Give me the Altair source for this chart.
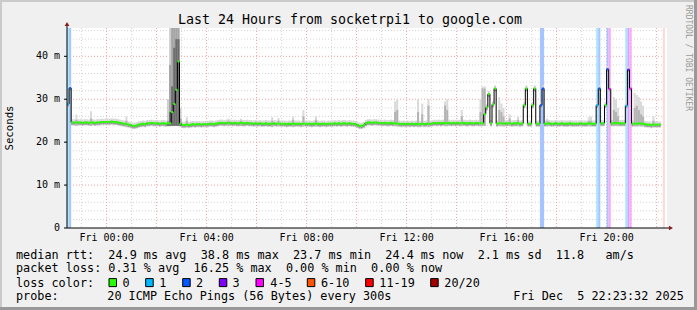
import altair as alt
import pandas as pd

NBSP = "\u00a0"
FONT = "DejaVu Sans Mono"

STEPS = 288          # 5-minute steps, Thu 22:25 -> Fri 22:25
YMAX = 46.6          # top of the plot in ms
W, H = 600, 200

# ---------------- median rtt (ms) per 5-minute step ----------------
median_ms = [
    28.9, 32.6, 24.6, 24.6, 24.5, 24.6, 24.6,                                  # 22:25-22:55
    24.5, 24.6, 24.6, 24.5, 24.6, 24.6, 24.5, 24.6, 24.6, 24.7, 24.7, 24.7,    # 23h
    24.7, 24.7, 24.8, 24.7, 24.7, 24.6, 24.5, 24.4, 24.3, 24.2, 24.1, 24.0,    # 00h
    23.8, 23.8, 23.9, 24.1, 24.2, 24.3, 24.2, 24.4, 24.4, 24.5, 24.4, 24.4,    # 01h
    24.4, 24.3, 24.4, 24.4, 24.3, 24.4, 24.4, 27.0, 28.9, 32.2, 38.8, 24.3,    # 02h
    24.0, 24.0, 24.1, 24.0, 24.1, 24.2, 24.1, 24.2, 24.2, 24.1, 24.2, 24.2,    # 03h
    24.2, 24.3, 24.3, 24.2, 24.3, 24.4, 24.5, 24.5, 24.4, 24.5, 24.4, 24.5,    # 04h
    24.4, 24.5, 24.4, 24.4, 24.5, 24.4, 24.4, 24.5, 24.4, 24.4, 24.3, 24.4,    # 05h
    24.3, 24.4, 24.3, 24.3, 24.4, 24.3, 24.3, 24.2, 24.4, 24.3, 24.3, 24.3,    # 06h
    24.3, 24.3, 24.2, 24.3, 24.3, 24.2, 24.3, 24.3, 24.3, 24.2, 24.3, 24.3,    # 07h
    24.3, 24.3, 24.2, 24.3, 24.3, 24.3, 24.2, 24.3, 24.3, 24.2, 24.3, 24.3,    # 08h
    24.3, 24.4, 24.3, 24.4, 24.3, 24.4, 24.4, 24.3, 24.4, 24.3, 24.3, 24.2,    # 09h
    24.0, 23.8, 23.8, 24.0, 24.4, 24.6, 24.6, 24.5, 24.6, 24.6, 24.5, 24.5,    # 10h
    24.4, 24.5, 24.4, 24.4, 24.5, 24.4, 24.4, 24.3, 24.3, 24.2, 24.3, 24.2,    # 11h
    24.3, 24.2, 24.3, 24.2, 24.3, 24.2, 24.2, 24.3, 24.2, 24.3, 24.2, 24.3,    # 12h
    24.4, 24.5, 24.4, 24.5, 24.4, 24.5, 24.4, 24.4, 24.5, 24.4, 24.5, 24.4,    # 13h
    24.5, 24.4, 24.4, 24.5, 24.4, 24.4, 24.5, 24.4, 24.4, 24.5, 24.4, 24.4,    # 14h
    24.4, 26.5, 28.1, 31.2, 24.4, 28.8, 32.5, 24.3, 24.4, 24.4, 24.3, 24.4,    # 15h
    24.4, 24.4, 24.3, 24.4, 24.4, 24.4, 24.3, 24.4, 28.6, 32.5, 24.3, 24.3,    # 16h
    28.6, 32.5, 24.3, 24.3, 28.6, 32.5, 24.3, 24.3, 24.4, 24.3, 24.3, 24.4,    # 17h
    24.3, 24.3, 24.4, 24.3, 24.3, 24.3, 24.4, 24.3, 24.3, 24.3, 24.3, 24.4,    # 18h
    24.3, 24.3, 24.3, 24.4, 24.3, 24.3, 24.3, 28.6, 32.5, 24.4, 24.4, 28.6,    # 19h
    37.0, 32.4, 24.4, 24.4, 24.5, 24.4, 24.4, 24.4, 24.4, 28.5, 36.9, 32.5,    # 20h
    24.3, 24.3, 24.3, 24.4, 24.3, 24.3, 24.2, 24.1, 24.1, 24.0, 24.1, 24.1,    # 21h
    24.1, 24.1, None, None, None,                                              # 22h
]

# packet-loss class of the steps that lost pings
loss_step = [0, 1, 227, 228, 254, 255, 259, 260, 268, 269, 270]
loss_bucket = ["1", "2", "2", "2", "1", "2", "2", "4-5", "1", "3", "4-5"]
unknown_step = [286]

bucket_labels = ["0", "1", "2", "3", "4-5", "6-10", "11-19", "20/20"]
bucket_colors = ["#26ff00", "#00b8ff", "#0059ff", "#7e00ff", "#ff00ff", "#ff5500", "#ff0000", "#a10000"]
bucket_band = {"1": "#a6e6ff", "2": "#a6c5ff", "3": "#d2a6ff", "4-5": "#ffa6ff"}

# smoke (spread of the 20 pings): light = max ping, mid = upper quartile
smoke_idx = [4, 11, 28, 57, 77, 83, 98, 101, 108, 113, 119, 157, 158, 168, 170, 173, 181, 182, 189, 198,
             199, 200, 207, 208, 209, 212, 216, 230, 250, 251, 262, 263, 264, 272, 273, 274, 275, 276, 281]
smoke_light = [26.4, 27.2, 26.0, 25.8, 25.5, 25.5, 25.8, 25.6, 26.0, 27.5, 26.0, 29.5, 30.0, 30.0, 29.0, 30.0, 29.5, 30.0, 27.5, 30.0,
               33.0, 33.0, 30.5, 29.0, 28.0, 26.5, 26.0, 25.5, 25.8, 26.0, 30.5, 30.0, 28.0, 31.5, 31.0, 30.5, 29.5, 28.5, 26.0]
smoke_mid = [25.2, 25.5, 25.0, 25.0, 25.0, 25.0, 25.0, 25.0, 25.2, 26.0, 25.2, 27.0, 27.5, 27.0, 26.5, 28.5, 28.5, 27.5, 26.0, 27.0,
             32.5, 32.5, 27.5, 27.0, 26.0, 25.5, 25.2, 25.0, 25.0, 25.0, 27.5, 27.0, 26.0, 28.0, 28.5, 27.5, 26.5, 26.0, 25.0]
# the tall smoke column around 02:35
col_idx = [48, 49, 50, 51, 52, 53, 54]
col_light = [30.0, 46.6, 46.6, 46.6, 46.6, 46.6, 28.0]
col_mid = [25.0, 38.0, 46.6, 46.6, 46.6, 46.6, 25.5]
col_dark = [24.5, 27.0, 33.0, 42.0, 44.0, 44.0, 24.5]

# axes
xlabel_idx = [19, 67, 115, 163, 211, 259]
xlabel_txt = ["Fri 00:00", "Fri 04:00", "Fri 08:00", "Fri 12:00", "Fri 16:00", "Fri 20:00"]
ylabel_val = [0, 10, 20, 30, 40]
ylabel_txt = ["0", "10 m", "20 m", "30 m", "40 m"]
minor_h = [2, 4, 6, 8, 12, 14, 16, 18, 22, 24, 26, 28, 32, 34, 36, 38, 42, 44, 46]
major_h = [10, 20, 30, 40]
minor_v = [7 + 24 * k for k in range(12)]
major_v = [19 + 24 * k for k in range(12)]

# legend text
title_txt = "Last 24 Hours from socketrpi1 to google.com"
row1 = "median rtt:  24.9 ms avg  38.8 ms max  23.7 ms min  24.4 ms now  2.1 ms sd  11.8   am/s"
row2 = "packet loss: 0.31 % avg  16.25 % max  0.00 % min  0.00 % now"
row4a = "probe:"
row4b = "20 ICMP Echo Pings (56 Bytes) every 300s"
row4c = "Fri Dec  5 22:23:32 2025"
sq_x = [109, 145.7, 182.7, 219.3, 256, 307.3, 365.7, 430.7]
lab_x = [122.6, 159.3, 196.0, 232.6, 270.3, 321.0, 379.3, 444.3]

# ---------------- frames ----------------
color_of = dict(zip(bucket_labels, bucket_colors))
loss_map = dict(zip(loss_step, loss_bucket))

seg = pd.DataFrame([
    {"i": i, "i2": i + 1, "v": v, "c": color_of[loss_map.get(i, "0")]}
    for i, v in enumerate(median_ms) if v is not None
])
vert = pd.DataFrame([
    {"i": i, "v": median_ms[i - 1], "v2": median_ms[i]}
    for i in range(1, STEPS)
    if median_ms[i - 1] is not None and median_ms[i] is not None
])
bands = pd.DataFrame(
    [{"i": s, "i2": s + 1, "c": bucket_band[b]} for s, b in zip(loss_step, loss_bucket)]
    + [{"i": s, "i2": s + 1, "c": "#ffd8d8"} for s in unknown_step]
)
base_smoke = seg.assign(lo=seg.v - 0.75, hi=seg.v + 0.75, lo2=seg.v - 0.55, hi2=seg.v + 0.15)
spk = pd.DataFrame({"i": smoke_idx, "top": smoke_light, "mid": smoke_mid})
spk["i2"] = spk.i + 1
spk["lo"] = 23.8
col = pd.DataFrame({"i": col_idx, "top": col_light, "mid": col_mid, "dark": col_dark})
col["i2"] = col.i + 1
col["lo"] = 23.8

xs = alt.Scale(domain=[0, STEPS], nice=False, zero=False)
ys = alt.Scale(domain=[0, YMAX], nice=False, zero=False)


def X(f):
    return alt.X(f, type="quantitative", scale=xs, axis=None)


def Y(f):
    return alt.Y(f, type="quantitative", scale=ys, axis=None)


one = pd.DataFrame({"a": [0]})


def txt(s, x, y, size=11.8, align="left", color="#000000", angle=0):
    kw = dict(font=FONT, fontSize=size, align=align, baseline="middle", color=color)
    if angle:
        kw["angle"] = angle
    return alt.Chart(one).mark_text(**kw).encode(
        x=alt.value(x), y=alt.value(y), text=alt.value(s.replace(" ", NBSP)))


def box(x, x2, y, y2, color, stroke=None):
    kw = dict(color=color)
    if stroke:
        kw.update(stroke=stroke, strokeWidth=1)
    return alt.Chart(one).mark_rect(**kw).encode(
        x=alt.value(x), x2=alt.value(x2), y=alt.value(y), y2=alt.value(y2))


layers = []

# outer frame shading
layers += [
    box(-67, 630, -28, -26, "#cbcbcb"),
    box(-67, -65, -28, 282, "#cbcbcb"),
    box(-67, 630, 279, 282, "#999999"),
    box(627, 630, -28, 282, "#999999"),
]

# grid
gh_min = pd.DataFrame({"v": minor_h})
gh_maj = pd.DataFrame({"v": major_h})
gv_min = pd.DataFrame({"i": minor_v})
gv_maj = pd.DataFrame({"i": major_v})
layers += [
    alt.Chart(gh_min).mark_rule(color="#d4d4d4", strokeDash=[1, 2], strokeWidth=1).encode(
        y=Y("v"), x=alt.value(0), x2=alt.value(W)),
    alt.Chart(gv_min).mark_rule(color="#d4d4d4", strokeDash=[1, 2], strokeWidth=1).encode(
        x=X("i"), y=alt.value(0), y2=alt.value(H)),
    alt.Chart(gh_maj).mark_rule(color="#f4a3a3", strokeDash=[1, 2], strokeWidth=1).encode(
        y=Y("v"), x=alt.value(0), x2=alt.value(W)),
    alt.Chart(gv_maj).mark_rule(color="#f4a3a3", strokeDash=[1, 2], strokeWidth=1).encode(
        x=X("i"), y=alt.value(0), y2=alt.value(H)),
]

# loss bands
layers.append(
    alt.Chart(bands).mark_rect().encode(
        x=X("i"), x2="i2", y=alt.value(0), y2=alt.value(H), color=alt.Color("c:N", scale=None))
)

# smoke
layers += [
    alt.Chart(base_smoke).mark_rect(color="#d6d6d6").encode(x=X("i"), x2="i2", y=Y("lo"), y2="hi"),
    alt.Chart(base_smoke).mark_rect(color="#9a9a9a").encode(x=X("i"), x2="i2", y=Y("lo2"), y2="hi2"),
    alt.Chart(spk).mark_rect(color="#dadada").encode(x=X("i"), x2="i2", y=Y("lo"), y2="top"),
    alt.Chart(spk).mark_rect(color="#b4b4b4").encode(x=X("i"), x2="i2", y=Y("lo"), y2="mid"),
    alt.Chart(col).mark_rect(color="#cfcfcf").encode(x=X("i"), x2="i2", y=Y("lo"), y2="top"),
    alt.Chart(col).mark_rect(color="#a4a4a4").encode(x=X("i"), x2="i2", y=Y("lo"), y2="mid"),
    alt.Chart(col).mark_rect(color="#6c6c6c").encode(x=X("i"), x2="i2", y=Y("lo"), y2="dark"),
]

# median line: black risers + loss-coloured treads
layers += [
    alt.Chart(vert).mark_rule(color="#000000", strokeWidth=1).encode(x=X("i"), y=Y("v"), y2="v2"),
    alt.Chart(seg).mark_rule(strokeWidth=2).encode(
        x=X("i"), x2="i2", y=Y("v"), color=alt.Color("c:N", scale=None)),
]

# axes
layers += [
    alt.Chart(one).mark_rule(color="#000000", strokeWidth=1).encode(
        x=alt.value(0), x2=alt.value(W + 2), y=alt.value(H)),
    alt.Chart(one).mark_rule(color="#000000", strokeWidth=1).encode(
        x=alt.value(0), y=alt.value(-3), y2=alt.value(H)),
    alt.Chart(one).mark_point(shape="triangle-up", filled=True, size=22, color="#8b1a1a", opacity=1).encode(
        x=alt.value(0), y=alt.value(-4)),
    alt.Chart(one).mark_point(shape="triangle-right", filled=True, size=22, color="#8b1a1a", opacity=1).encode(
        x=alt.value(W + 4), y=alt.value(H)),
    alt.Chart(pd.DataFrame({"v": major_h + [0]})).mark_rule(color="#000000").encode(
        y=Y("v"), x=alt.value(-3), x2=alt.value(0)),
]

# axis labels
layers += [
    alt.Chart(pd.DataFrame({"i": xlabel_idx, "t": xlabel_txt})).mark_text(
        font=FONT, fontSize=10, align="center", baseline="middle", color="#000000").encode(
        x=X("i"), y=alt.value(209.5), text="t:N"),
    alt.Chart(pd.DataFrame({"v": ylabel_val, "t": [t.replace(" ", NBSP) for t in ylabel_txt]})).mark_text(
        font=FONT, fontSize=10, align="right", baseline="middle", color="#000000").encode(
        y=Y("v"), x=alt.value(-7), text="t:N"),
    txt("Seconds", -57, 100, size=10.7, align="center", angle=270),
    txt(title_txt, 283, -8, size=13.3, align="center"),
    txt("RRDTOOL / TOBI OETIKER", 621, -23, size=8, color="#9a9a9a", angle=90),
]

# legend
layers += [
    txt(row1, -51, 226.6),
    txt(row2, -51, 240.4),
    txt("loss color:", -51, 254.6),
    txt(row4a, -51, 268.4),
    txt(row4b, 40.3, 268.4),
    txt(row4c, 446.3, 268.4),
]
for sx, lx, lab, c in zip(sq_x, lab_x, bucket_labels, bucket_colors):
    layers.append(box(sx - 67, sx - 67 + 7.5, 250.6, 258.6, c, stroke="#000000"))
    layers.append(txt(lab, lx - 67, 254.6))

chart = alt.layer(*layers).properties(
    width=W, height=H,
    padding={"left": 67, "top": 28, "right": 30, "bottom": 82},
    autosize="none",
    background="#f0f0f0",
).configure_view(fill="#ffffff", strokeWidth=0)

chart.save("out.html", embed_options={"renderer": "svg", "actions": False})
